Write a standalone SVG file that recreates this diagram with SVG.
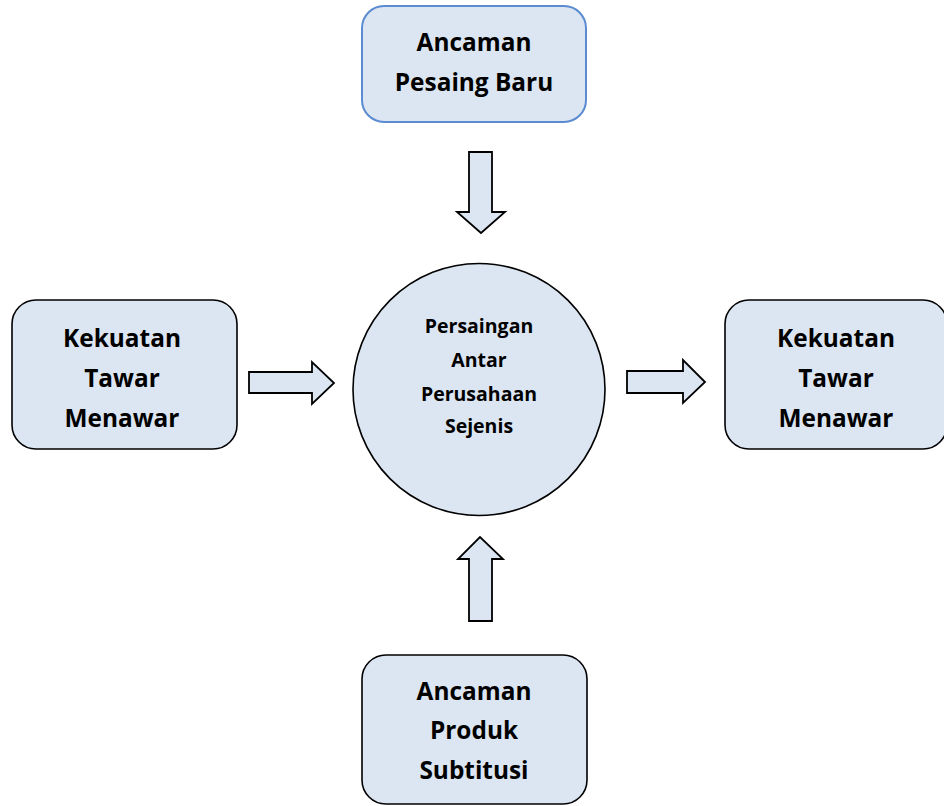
<svg xmlns="http://www.w3.org/2000/svg" width="944" height="806" viewBox="0 0 944 806">
<style>
.box{fill:#dce6f2;stroke:#000;stroke-width:1.6}
.blue{stroke:#5b8bd0;stroke-width:2}
.arr{fill:#dce6f2;stroke:#000;stroke-width:1.8;stroke-linejoin:miter}
.t{font-family:"Open Sans","Liberation Sans",sans-serif;font-weight:bold;font-size:24.4px;fill:#000;text-anchor:middle}
.c{font-size:19.5px}
</style>
<rect width="944" height="806" fill="#fff"/>
<g id="node-top">
<rect class="box blue" x="362" y="6" width="224" height="116" rx="22"/>
<text class="t" x="474" y="51">Ancaman</text>
<text class="t" x="474" y="91">Pesaing Baru</text>
</g>
<g id="node-left">
<rect class="box" x="12" y="300" width="225" height="149" rx="24"/>
<text class="t" x="122" y="347">Kekuatan</text>
<text class="t" x="122" y="387">Tawar</text>
<text class="t" x="122" y="427">Menawar</text>
</g>
<g id="node-center">
<circle class="box" cx="479" cy="389.5" r="126"/>
<text class="t c" x="479" y="333">Persaingan</text>
<text class="t c" x="479" y="367">Antar</text>
<text class="t c" x="479" y="401">Perusahaan</text>
<text class="t c" x="479" y="433">Sejenis</text>
</g>
<g id="node-right">
<rect class="box" x="725" y="300" width="222" height="149" rx="24"/>
<text class="t" x="836" y="347">Kekuatan</text>
<text class="t" x="836" y="387">Tawar</text>
<text class="t" x="836" y="427">Menawar</text>
</g>
<g id="node-bottom">
<rect class="box" x="362" y="655" width="225" height="149" rx="24"/>
<text class="t" x="474" y="700">Ancaman</text>
<text class="t" x="474" y="739">Produk</text>
<text class="t" x="474" y="779">Subtitusi</text>
</g>
<g id="connectors">
<polygon class="arr" points="469,152 492,152 492,212 505,212 481,233 457,212 469,212"/>
<polygon class="arr" points="249,372 312,372 312,362 334,383 312,404 312,393 249,393"/>
<polygon class="arr" points="627,371 683,371 683,360 705,382 683,403 683,393 627,393"/>
<polygon class="arr" points="469,621 469,559 458,559 480,537 503,559 492,559 492,621"/>
</g>
</svg>
